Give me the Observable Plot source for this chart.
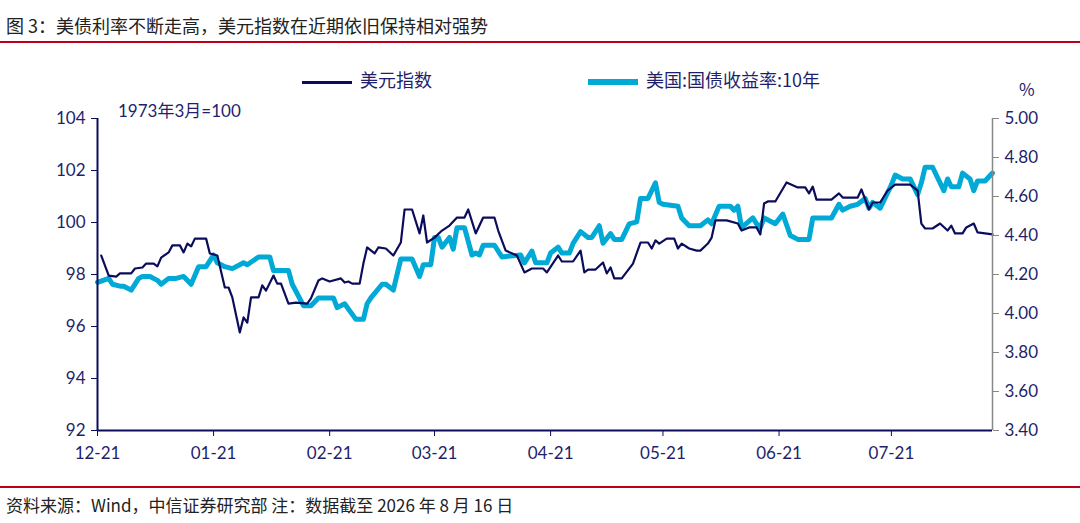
<!DOCTYPE html>
<html><head><meta charset="utf-8">
<script src="https://cdn.jsdelivr.net/npm/d3@7"></script>
<script src="https://cdn.jsdelivr.net/npm/@observablehq/plot@0.6"></script>
<style>
body{margin:0;background:#fff;font-family:"Noto Sans CJK SC","Noto Sans",sans-serif;}
#wrap{position:relative;width:1080px;height:523px;}
.t{position:absolute;white-space:nowrap;}
</style></head><body>
<div id="wrap"></div>
<script>
const startDate = "2020-12-21";
const dollarDays = [1,3,5,6,9,10,12,13,15,16,17,19,20,22,23,24,25,26,29,30,32,34,35,36,38,39,40,41,43,44,45,47,48,49,51,53,56,57,59,60,62,65,66,67,68,70,71,72,74,75,77,79,81,82,84,86,87,88,90,92,94,96,98,99,101,103,106,107,109,112,114,116,119,120,123,124,127,129,130,131,133,135,136,137,138,140,143,145,147,148,149,150,152,154,155,156,158,160,161,163,164,165,168,171,172,174,176,177,178,179,181,184,187,189,190,191,192,196,198,199,203,204,206,207,209,211,213,217,219,220,221,223,225,227,228,229,231,232,234,235,239];
const dollarValues = [98.73,97.96,97.92,98.04,98.04,98.23,98.27,98.42,98.42,98.31,98.65,98.85,99.12,99.12,98.85,99.19,99.08,99.38,99.38,98.81,98.73,97.50,97.50,97.12,95.77,96.35,96.15,97.12,97.12,97.58,97.38,97.96,97.65,97.65,96.88,96.92,96.88,97.08,97.77,97.85,97.73,97.85,97.69,97.73,97.65,97.65,98.42,99.04,98.81,99.04,99.00,98.73,99.23,100.50,100.50,99.58,100.27,99.23,99.42,99.69,99.88,100.19,100.19,100.50,99.58,100.19,100.19,99.69,98.92,98.73,98.08,98.23,98.23,98.08,98.73,98.50,98.50,98.92,98.08,98.19,98.19,98.46,98.04,98.27,97.85,97.85,98.42,99.23,99.23,99.00,99.31,99.19,99.38,99.38,99.00,99.19,99.00,98.92,98.92,99.19,99.42,100.08,100.08,99.96,99.69,99.81,99.81,99.54,100.73,100.81,100.81,101.54,101.35,101.35,101.12,101.38,100.88,100.88,101.12,100.96,100.96,101.27,100.50,100.77,100.77,101.23,101.46,101.46,101.23,99.96,99.77,99.77,99.96,99.69,99.88,99.58,99.58,99.81,99.96,99.62,99.54];
const yieldDays = [0,3,4,6,7,9,11,12,14,16,17,19,21,23,25,27,29,31,32,34,36,39,40,43,46,47,51,52,55,57,59,63,64,66,69,71,72,73,76,77,79,81,84,86,87,89,90,91,92,94,95,96,98,100,101,102,103,106,108,113,114,116,117,120,121,123,124,126,127,129,131,132,134,135,137,138,140,142,144,145,147,149,150,151,155,156,158,161,163,164,166,169,170,171,172,175,176,177,178,181,183,185,187,190,191,195,196,198,199,201,203,205,206,207,209,212,213,215,217,219,220,221,223,226,227,228,230,231,233,234,235,237,239];
const yieldValues = [4.16,4.18,4.15,4.14,4.14,4.12,4.18,4.19,4.19,4.17,4.15,4.18,4.18,4.19,4.15,4.24,4.24,4.30,4.26,4.24,4.23,4.26,4.25,4.29,4.29,4.22,4.22,4.15,4.04,4.04,4.08,4.08,4.03,4.05,3.97,3.97,4.05,4.08,4.15,4.15,4.12,4.28,4.28,4.19,4.25,4.25,4.39,4.39,4.34,4.39,4.33,4.44,4.44,4.30,4.31,4.30,4.35,4.35,4.29,4.30,4.26,4.32,4.26,4.26,4.31,4.34,4.31,4.31,4.36,4.42,4.39,4.39,4.45,4.36,4.41,4.38,4.38,4.46,4.47,4.59,4.59,4.67,4.57,4.56,4.55,4.49,4.45,4.45,4.48,4.46,4.55,4.55,4.53,4.55,4.44,4.49,4.46,4.44,4.49,4.46,4.51,4.40,4.38,4.38,4.49,4.49,4.49,4.56,4.53,4.55,4.56,4.59,4.54,4.57,4.54,4.66,4.71,4.69,4.69,4.61,4.67,4.75,4.75,4.63,4.69,4.65,4.65,4.72,4.69,4.63,4.68,4.68,4.72];
const xTickDates = ["2020-12-21","2021-01-21","2021-02-21","2021-03-21","2021-04-21","2021-05-21","2021-06-21","2021-07-21"];
const xTickLabels = ["12-21","01-21","02-21","03-21","04-21","05-21","06-21","07-21"];
const leftTicks = [92,94,96,98,100,102,104];
const rightTicks = [3.4,3.6,3.8,4.0,4.2,4.4,4.6,4.8,5.0];

const navy = "#0c0c5c", cyan = "#00a9d6", txt = "#1f1f6b";
const d0 = new Date(startDate);
const toDate = d => d3.utcDay.offset(d0, d);
const dollar = dollarDays.map((d,i)=>({date: toDate(d), v: dollarValues[i]}));
const yld = yieldDays.map((d,i)=>({date: toDate(d), v: 92 + (yieldValues[i]-3.4)/1.6*12}));
const tickDates = xTickDates.map(s=>new Date(s));
const rToL = y => 92 + (y-3.4)/1.6*12;

const chart = Plot.plot({
  width:1080, height:523,
  marginTop:118, marginBottom:93, marginLeft:97, marginRight:88,
  style:{fontFamily:"Lato, 'Noto Sans', sans-serif", fontSize:"17px", color:txt, background:"transparent"},
  x:{type:"utc", domain:[toDate(0), toDate(239)], label:null},
  y:{domain:[92,104], label:null},
  marks:[
    Plot.line(yld,{x:"date",y:"v",stroke:cyan,strokeWidth:5,curve:"linear"}),
    Plot.line(dollar,{x:"date",y:"v",stroke:navy,strokeWidth:2.2}),
    Plot.axisY({ticks:leftTicks, label:null, tickSize:6, tickPadding:6, stroke:navy, fill:txt, fontSize:17}),
    Plot.ruleX([toDate(0)],{stroke:navy,strokeWidth:2}),
    Plot.axisY({anchor:"right", label:null, ticks:rightTicks.map(rToL), tickFormat:(d,i)=>rightTicks[i].toFixed(2), tickSize:6, tickPadding:6, stroke:"#888", fill:txt, fontSize:17}),
    Plot.ruleX([toDate(239)],{stroke:"#888",strokeWidth:1.5}),
    Plot.axisX({ticks:tickDates, label:null, tickFormat:(d,i)=>xTickLabels[i], tickSize:6, tickPadding:10, stroke:navy, fill:txt, fontSize:17}),
    Plot.ruleY([92],{stroke:navy,strokeWidth:2})
  ]
});
const wrap = document.getElementById("wrap");
chart.style.position="absolute"; chart.style.left="0"; chart.style.top="0";
wrap.appendChild(chart);
const add=(html,css)=>{const e=document.createElement("div");e.className="t";e.innerHTML=html;e.style.cssText+=css;wrap.appendChild(e);};
add("图 3：美债利率不断走高，美元指数在近期依旧保持相对强势","left:6px;top:12px;font-size:18px;color:#222;");
add("","left:0;top:41px;width:1080px;height:2px;background:#c0001a;");
add("<span style='display:inline-block;width:50px;height:3px;background:"+navy+";vertical-align:middle;margin-right:8px'></span>美元指数","left:302px;top:66px;font-size:18px;color:"+txt+";");
add("<span style='display:inline-block;width:50px;height:6px;background:"+cyan+";vertical-align:middle;margin-right:8px'></span>美国:国债收益率:10年","left:588px;top:66px;font-size:18px;color:"+txt+";");
add("%","left:1019px;top:76px;font-size:17px;color:"+txt+";");
add("1973年3月=100","left:118px;top:97px;font-size:17px;color:"+txt+";font-family:Lato,'Noto Sans CJK SC';");
add("","left:0;top:486px;width:1080px;height:2px;background:#c0001a;");
add("资料来源：Wind，中信证券研究部  注：数据截至 2026 年 8 月 16 日","left:6px;top:492px;font-size:17px;color:#222;");
</script></body></html>
